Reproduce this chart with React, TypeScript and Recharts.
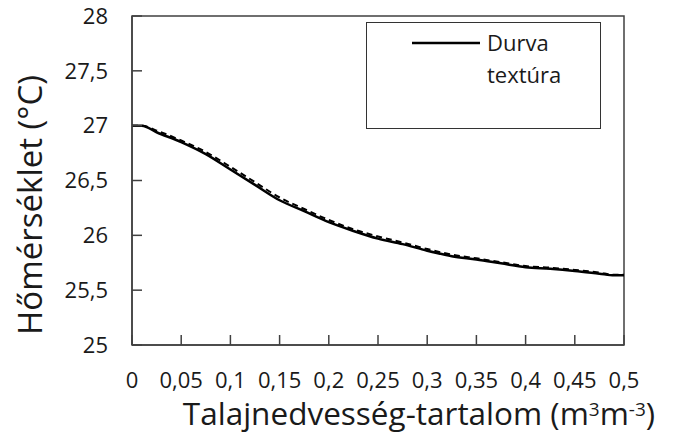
import React from 'react';
import { LineChart, Line, XAxis, YAxis, Legend, ReferenceArea } from 'recharts';

const FONT = '"Open Sans", sans-serif';

const moisture = [0, 0.01, 0.025, 0.05, 0.075, 0.1, 0.125, 0.15, 0.175, 0.2, 0.225, 0.25, 0.275, 0.3, 0.325, 0.35, 0.375, 0.4, 0.425, 0.45, 0.475, 0.49, 0.5];
const durvaMeasured = [27.0, 27.0, 26.94, 26.85, 26.74, 26.6, 26.46, 26.32, 26.22, 26.12, 26.04, 25.97, 25.92, 25.86, 25.81, 25.78, 25.745, 25.71, 25.695, 25.675, 25.65, 25.635, 25.635];
const durvaModel = [27.0, 27.0, 26.955, 26.865, 26.76, 26.625, 26.485, 26.345, 26.24, 26.14, 26.055, 25.99, 25.935, 25.875, 25.825, 25.79, 25.755, 25.72, 25.705, 25.685, 25.66, 25.64, 25.64];
const xTicks = [0, 0.05, 0.1, 0.15, 0.2, 0.25, 0.3, 0.35, 0.4, 0.45, 0.5];
const yTicks = [25, 25.5, 26, 26.5, 27, 27.5, 28];

const data = moisture.map((m, i) => ({ m, measured: durvaMeasured[i], model: durvaModel[i] }));

const fmt = (v: number) => String(v).replace('.', ',');

const AXIS = '#404040';
const TXT = '#1a1a1a';

const YTitle = () => (
  <text
    x={42}
    y={205}
    transform="rotate(-90, 42, 205)"
    textAnchor="middle"
    fontFamily={FONT}
    fontSize={33}
    fill={TXT}
  >
    Hőmérséklet (°C)
  </text>
);

const XTitle = () => (
  <text x={419} y={425} textAnchor="middle" fontFamily={FONT} fontSize={31.5} fill={TXT}>
    Talajnedvesség-tartalom (m
    <tspan dy={-9} fontSize={19}>3</tspan>
    <tspan dy={9}>m</tspan>
    <tspan dy={-9} fontSize={19}>-3</tspan>
    <tspan dy={9}>)</tspan>
  </text>
);

const LegendBox = () => (
  <div
    style={{
      width: 235,
      height: 107,
      boxSizing: 'border-box',
      border: '1.5px solid #333',
      background: '#fff',
      position: 'relative',
      fontFamily: FONT,
      fontSize: 22,
      color: TXT,
    }}
  >
    <svg style={{ position: 'absolute', left: 45, top: 17 }} width={68} height={6}>
      <line x1={0} y1={3} x2={68} y2={3} stroke="#000" strokeWidth={2.5} />
    </svg>
    <div style={{ position: 'absolute', left: 120, top: 3, lineHeight: '32px', whiteSpace: 'nowrap' }}>
      Durva
      <br />
      textúra
    </div>
  </div>
);

export default function App() {
  return (
    <div style={{ position: 'absolute', left: 0, top: 0, width: 673, height: 441, background: '#fff' }}>
      <LineChart width={673} height={441} data={data} margin={{ top: 16, right: 49, bottom: 0, left: 0 }}>
        <XAxis
          dataKey="m"
          type="number"
          domain={[0, 0.5]}
          ticks={xTicks}
          tickFormatter={fmt}
          height={96}
          tickSize={-10}
          tickMargin={37}
          interval={0}
          axisLine={{ stroke: AXIS, strokeWidth: 1.5 }}
          tickLine={{ stroke: AXIS, strokeWidth: 1.5 }}
          tick={{ fontFamily: FONT, fontSize: 22, fill: TXT }}
          label={<XTitle />}
        />
        <YAxis
          type="number"
          domain={[25, 28]}
          ticks={yTicks}
          tickFormatter={fmt}
          width={132}
          tickSize={-10}
          tickMargin={34}
          interval={0}
          axisLine={{ stroke: AXIS, strokeWidth: 1.5 }}
          tickLine={{ stroke: AXIS, strokeWidth: 1.5 }}
          tick={{ fontFamily: FONT, fontSize: 22, fill: TXT }}
          label={<YTitle />}
        />
        <ReferenceArea x1={0} x2={0.5} y1={25} y2={28} fill="none" stroke={AXIS} strokeWidth={1.5} ifOverflow="visible" />
        <Line
          dataKey="measured"
          name="Durva textúra"
          type="monotone"
          stroke="#000"
          strokeWidth={2.5}
          dot={false}
          isAnimationActive={false}
        />
        <Line
          dataKey="model"
          name="modell"
          type="monotone"
          stroke="#000"
          strokeWidth={2}
          strokeDasharray="6 4"
          dot={false}
          legendType="none"
          isAnimationActive={false}
        />
        <Legend
          layout="horizontal"
          verticalAlign="middle"
          align="center"
          content={<LegendBox />}
          wrapperStyle={{ left: 366, top: 22, width: 235, height: 107 }}
        />
      </LineChart>
    </div>
  );
}
